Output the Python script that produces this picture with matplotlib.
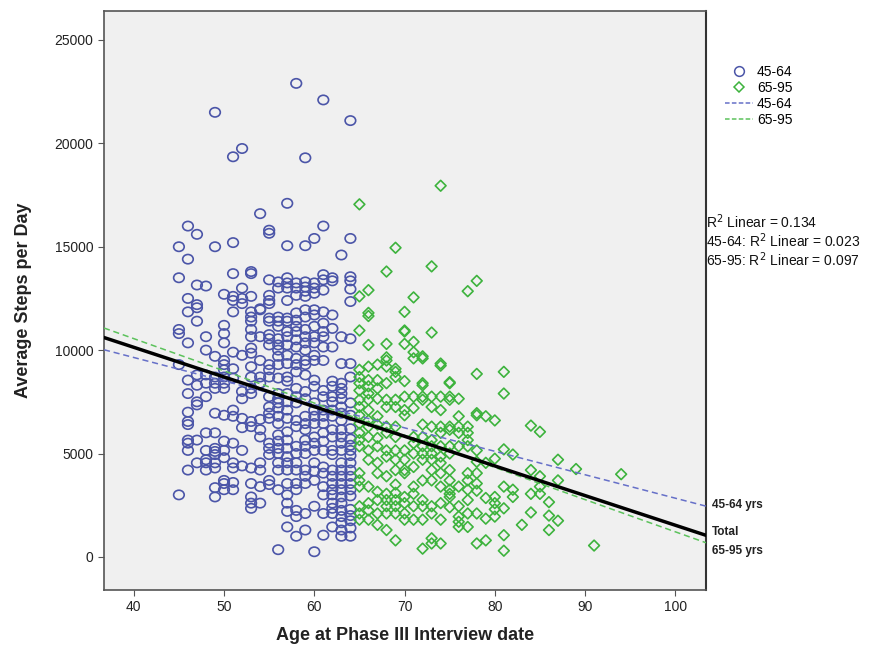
import matplotlib
matplotlib.use("Agg")
import matplotlib.pyplot as plt
from matplotlib.lines import Line2D
from matplotlib.path import Path
import numpy as np

plt.rcParams['font.family'] = ['Liberation Sans', 'DejaVu Sans']

# ---- data: steps per day by age (45-64 group) ----
young = {
    45: [15000, 13500, 11000, 10800, 9300, 3000],
    46: [16000, 14400, 12500, 11850, 10350, 8550, 7900, 7000, 6550, 6400, 5650, 5500, 5150, 4200],
    47: [15600, 13150, 12200, 12050, 11400, 8800, 8300, 7500, 7350, 5650, 4550],
    48: [13100, 10650, 10000, 8800, 8400, 7750, 6000, 5150, 4700, 4550, 4200],
    49: [21500, 15000, 9700, 8700, 8400, 8150, 6950, 6000, 5250, 5100, 4950, 4550, 4300, 3350, 2900],
    50: [12700, 11200, 10800, 10350, 9500, 9300, 9050, 8700, 8400, 8150, 6850, 5600, 5150, 4800, 3700, 3550, 3250],
    51: [19350, 15200, 13700, 12600, 12400, 11850, 9900, 9100, 8650, 7100, 6800, 5500, 4550, 4300, 3600, 3250],
    52: [19750, 13000, 12500, 12250, 9750, 8000, 7650, 6700, 6250, 5150, 4400],
    53: [13800, 13700, 12600, 11850, 11600, 11400, 11000, 10650, 10100, 9850, 9200, 8700, 8150, 7900,
         6550, 6300, 4300, 3550, 2900, 2600, 2350],
    54: [16600, 12000, 11950, 10650, 9500, 8700, 8400, 6650, 6150, 5800, 4550, 4200, 3400, 2600],
    55: [15800, 15650, 13400, 12650, 12400, 12250, 11550, 11400, 10750, 10550, 10250, 9300, 9050, 8700,
         7750, 7250, 6950, 6700, 5500, 5250, 4950, 3700, 3500],
    56: [13300, 13000, 11600, 11400, 11150, 10550, 10250, 10000, 9700, 9300, 8650, 7900, 7650, 7450,
         7200, 6800, 6450, 5900, 5600, 5250, 5000, 4550, 4200, 3250, 350],
    57: [17100, 15050, 13500, 13250, 13000, 12400, 11550, 11400, 10900, 10650, 10250, 9750, 9350, 8700,
         8500, 7900, 7500, 7100, 6700, 6050, 5650, 5250, 4850, 4550, 4200, 3550, 3000, 2600, 2200, 1450],
    58: [22900, 13250, 13000, 12650, 11800, 11450, 11150, 10900, 10500, 10150, 9600, 9300, 8950, 8150,
         7750, 7450, 6600, 6300, 5350, 5000, 4550, 4200, 3550, 3250, 2250, 1950, 1000],
    59: [19300, 15050, 13300, 13050, 12850, 12600, 11950, 11600, 11000, 10650, 10350, 10000, 9500, 9300,
         8800, 8000, 7650, 6800, 6450, 6150, 5650, 5350, 5000, 4200, 3900, 3550, 2100, 1300],
    60: [15400, 13250, 13000, 12750, 11950, 11700, 11150, 10650, 10350, 9750, 9500, 8550, 8250, 7450,
         7100, 6800, 6450, 5800, 5500, 5150, 4550, 4150, 3700, 2450, 250],
    61: [22100, 16000, 13650, 13400, 12900, 11850, 11300, 10900, 10650, 10150, 9500, 8050, 7750, 7100,
         6800, 6450, 6000, 5600, 5150, 4350, 4050, 3400, 3000, 2100, 1050],
    62: [13500, 13350, 11700, 11050, 10150, 8500, 8250, 7750, 7500, 7100, 6800, 6150, 5800, 5150, 4950,
         4200, 3900, 3550, 3250, 3000, 2600, 2350, 2100, 1450],
    63: [14600, 10650, 9350, 8400, 8150, 7900, 7650, 7250, 6950, 6600, 6150, 5800, 5500, 5150, 4550,
         4200, 3900, 3550, 3250, 2900, 2600, 2250, 1950, 1650, 1300, 1000],
    64: [21100, 15400, 13550, 13350, 12950, 12350, 10550, 9350, 8700, 7450, 6850, 6200, 5700, 5400,
         5150, 4900, 4550, 4200, 3900, 3550, 3250, 2950, 2300, 2000, 1750, 1400, 1000],
}

# ---- data: steps per day by age (65-95 group) ----
old = {
    65: [17050, 12600, 10950, 9050, 8700, 8400, 8050, 7600, 7250, 6850, 6450, 6000, 5650, 5350, 4050,
         3700, 3400, 2450, 2100, 1800],
    66: [12900, 11800, 11650, 10250, 9200, 8550, 8250, 7900, 7600, 7100, 6600, 6300, 5800, 5150, 4700,
         3400, 2600, 2250, 1800],
    67: [9300, 8550, 8150, 7650, 6800, 6400, 5750, 5350, 4550, 4050, 3150, 2750, 2100, 1550],
    68: [13800, 10300, 9650, 9500, 9200, 8400, 7600, 7250, 6300, 6000, 5150, 4850, 3900, 3050, 2750,
         2450, 2100, 1300],
    69: [14950, 9100, 8950, 8700, 7600, 7250, 6300, 5800, 5150, 4700, 4200, 3500, 3100, 2750, 2450,
         2100, 800],
    70: [11850, 10950, 10900, 10300, 8500, 7750, 7100, 6850, 5150, 4700, 4200, 4050, 2900, 2600, 2100, 1800],
    71: [12550, 10400, 9900, 9600, 7750, 7200, 5800, 5500, 5000, 4350, 3400, 3050, 2450, 1800],
    72: [9700, 9600, 8400, 8300, 7750, 7600, 6400, 5800, 5350, 5000, 4700, 3700, 2750, 2450, 1800, 400],
    73: [14050, 10850, 7750, 7250, 6300, 5650, 5350, 5000, 4700, 4200, 3700, 2450, 2100, 900, 650],
    74: [17950, 9350, 9250, 7750, 7100, 6300, 6000, 5350, 4850, 4550, 4050, 3400, 2600, 1800, 650],
    75: [8450, 8400, 7750, 7600, 6300, 6150, 5350, 5000, 4200, 3700, 3250, 3050, 2900, 2400],
    76: [7650, 6800, 6300, 6000, 5350, 3400, 2450, 1950, 1700, 1450],
    77: [12850, 6300, 6000, 5650, 5350, 4050, 3700, 3250, 2750, 2100, 1450],
    78: [13350, 8850, 6950, 6850, 5150, 4600, 4050, 3550, 3200, 2100, 650],
    79: [6800, 4550, 2850, 1850, 800],
    80: [6600, 4750, 2900, 2600, 2300, 1950],
    81: [8950, 7900, 5200, 3400, 2350, 1050, 300],
    82: [4950, 3250, 2900],
    83: [1550],
    84: [6350, 4200, 3050, 2150],
    85: [6050, 3900, 3400, 3050],
    86: [2650, 2000, 1300],
    87: [4700, 3700, 1750],
    89: [4250],
    91: [550],
    94: [4000],
}

# fitted lines: (intercept, slope)
fit_total = (15872, -143.4)
fit_young = (14180, -113.4)
fit_old = (16784, -155.7)

r2_labels = ["R$^2$ Linear = 0.134", "45-64: R$^2$ Linear = 0.023", "65-95: R$^2$ Linear = 0.097"]
line_labels = ["45-64 yrs", "Total", "65-95 yrs"]

blue = "#4b55a8"
green = "#3db33d"
blue_line = "#6670c8"
green_line = "#5cc25c"

yx = np.concatenate([[a] * len(v) for a, v in young.items()])
yy = np.concatenate([v for v in young.values()])
ox = np.concatenate([[a] * len(v) for a, v in old.items()])
oy = np.concatenate([v for v in old.values()])

# slightly wide ellipse marker, like the original
_c = Path.unit_circle()
ellipse = Path(_c.vertices * np.array([1.0, 0.88]), _c.codes)

fig = plt.figure(figsize=(8.94, 6.46), dpi=100)
ax = fig.add_axes([104 / 894, 1 - 590 / 646, (706 - 104) / 894, (590 - 11) / 646])
ax.set_facecolor("#f0f0f0")

ax.scatter(yx, yy, marker=ellipse, s=58, facecolors='none', edgecolors=blue, linewidths=1.2, zorder=3)
ax.scatter(ox, oy, marker='D', s=30, facecolors='none', edgecolors=green, linewidths=1.2, zorder=3)

xlim = (36.7, 103.4)
xs = np.array(xlim)
ax.plot(xs, fit_young[0] + fit_young[1] * xs, color=blue_line, lw=1.1, ls=(0, (4, 2.5)), zorder=4)
ax.plot(xs, fit_old[0] + fit_old[1] * xs, color=green_line, lw=1.1, ls=(0, (4, 2.5)), zorder=4)
ax.plot(xs, fit_total[0] + fit_total[1] * xs, color="black", lw=2.5, zorder=5)

ax.set_xlim(*xlim)
ax.set_ylim(-1600, 26400)
ax.set_xticks([40, 50, 60, 70, 80, 90, 100])
ax.set_yticks([0, 5000, 10000, 15000, 20000, 25000])
ax.tick_params(axis='both', direction='out', length=4, color="#555555", labelsize=10, labelcolor="#222222")
for s in ax.spines.values():
    s.set_color("#555555")
    s.set_linewidth(1.2)
ax.spines['right'].set_color("#333333")
ax.spines['right'].set_linewidth(1.5)

ax.set_xlabel("Age at Phase III Interview date", fontsize=13, fontweight='bold', color="#222222", labelpad=9)
ax.set_ylabel("Average Steps per Day", fontsize=13, fontweight='bold', color="#222222", labelpad=16)

# legend (outside, right)
handles = [
    Line2D([], [], marker='o', ls='none', markerfacecolor='none', markeredgecolor=blue, markersize=7, mew=1.1),
    Line2D([], [], marker='D', ls='none', markerfacecolor='none', markeredgecolor=green, markersize=5.5, mew=1.1),
    Line2D([], [], color=blue_line, lw=1.1, ls=(0, (3, 1.5))),
    Line2D([], [], color=green_line, lw=1.1, ls=(0, (3, 1.5))),
]
leg = fig.legend(handles, ["45-64", "65-95", "45-64", "65-95"], loc='upper left',
                 bbox_to_anchor=(718 / 894, 1 - 58 / 646), frameon=False, fontsize=10,
                 handlelength=2.0, handletextpad=0.3, labelspacing=0.15, borderpad=0)

# R^2 annotations
for i, t in enumerate(r2_labels):
    fig.text(706 / 894, 1 - (222 + 19 * i) / 646, t, fontsize=10, va='center', ha='left', color="#111111")

# line end labels
for t, yp in zip(line_labels, [505, 532, 551]):
    fig.text(712 / 894, 1 - yp / 646, t, fontsize=8.5, fontweight='bold', va='center', ha='left', color="#222222")

fig.savefig("out.png", dpi=100)
